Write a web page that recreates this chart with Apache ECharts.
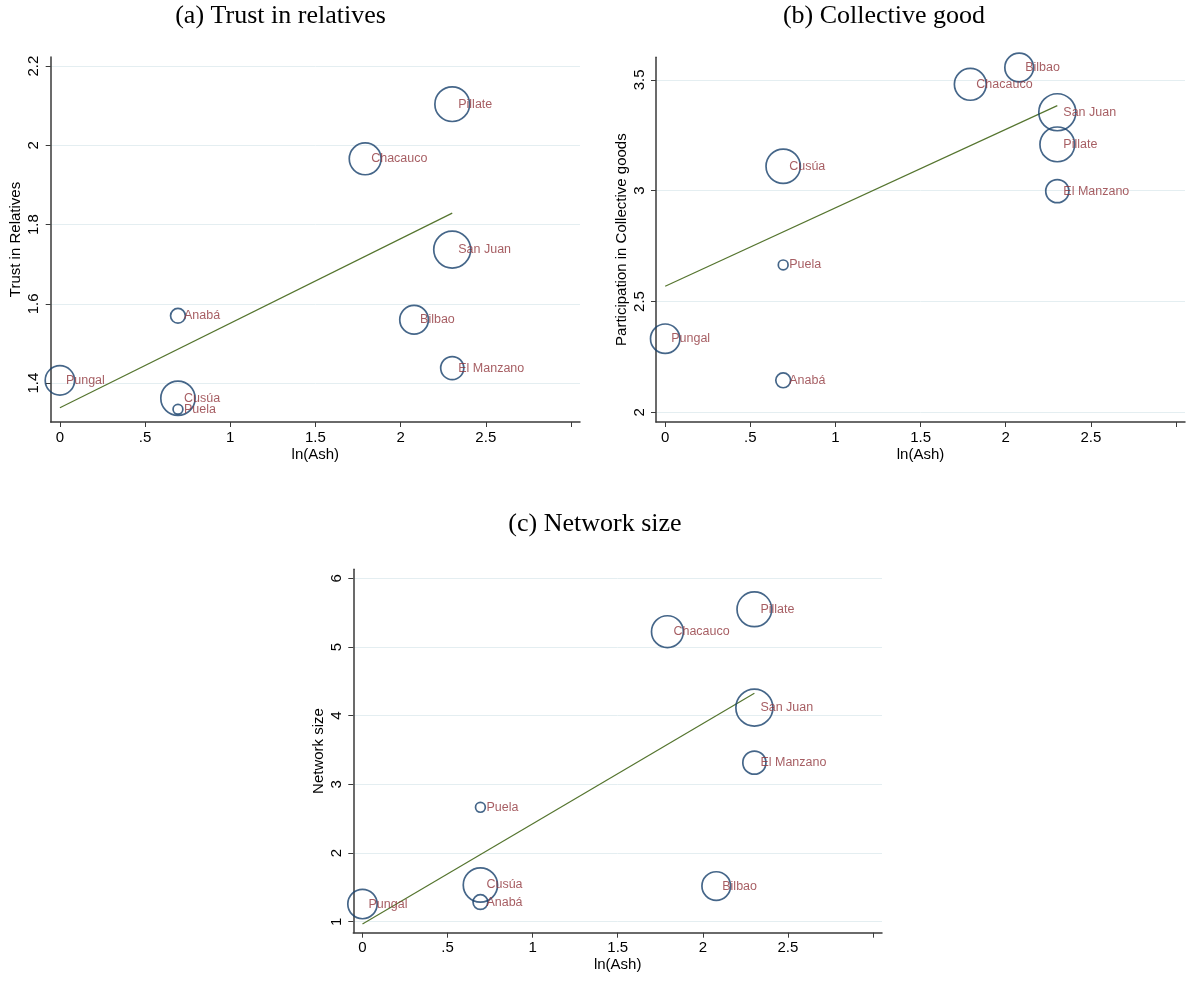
<!DOCTYPE html>
<html>
<head>
<meta charset="utf-8">
<script src="https://cdn.jsdelivr.net/npm/echarts@6/dist/echarts.min.js"></script>
<style>
html,body{margin:0;padding:0;background:#fff;}
#chart{width:1192px;height:981px;}
</style>
</head>
<body>
<div id="chart"></div>
<script>
// ---- data ----
const villages = ['Pungal', 'Anabá', 'Cusúa', 'Puela', 'Chacauco', 'Bilbao', 'Pillate', 'San Juan', 'El Manzano'];
const lnAsh = [0, 0.693, 0.693, 0.693, 1.792, 2.079, 2.303, 2.303, 2.303];
const bubbleWeight = [63, 16, 86, 7, 74, 60, 88, 100, 39];
const trustRelatives = [1.407, 1.570, 1.362, 1.334, 1.966, 1.560, 2.104, 1.737, 1.438];
const collectiveGoods = [2.332, 2.144, 3.110, 2.665, 3.480, 3.556, 3.209, 3.354, 2.998];
const networkSize = [1.257, 1.286, 1.534, 2.665, 5.223, 1.519, 5.549, 4.117, 3.316];
const fitX = [0, 2.303];
const fitTrust = [1.338, 1.829];
const fitCollective = [2.569, 3.384];
const fitNetwork = [0.966, 4.325];
const xTicks = [0, 0.5, 1, 1.5, 2, 2.5, 3];
const xTickLabels = [0, 0.5, 1, 1.5, 2, 2.5];
const yTicksTrust = [1.4, 1.6, 1.8, 2, 2.2];
const yTicksCollective = [2, 2.5, 3, 3.5];
const yTicksNetwork = [1, 2, 3, 4, 5, 6];
const panelTitles = ['(a) Trust in relatives', '(b) Collective good', '(c) Network size'];
const yNames = ['Trust in Relatives', 'Participation in Collective goods', 'Network size'];
const xName = 'ln(Ash)';

// ---- layout / style ----
const SANS = "'Liberation Sans', Arial, Helvetica, sans-serif";
const SERIF = "'Liberation Serif', 'Times New Roman', serif";
const NAVY = '#17406b', MAROON = '#90353b', GREEN = '#55752f', GRIDC = '#e4eef1', AXC = '#3a3a3a';
const X_MIN = -0.054, X_MAX = 3.053;
const maxW = Math.max(...bubbleWeight);
const MAX_D = 37;

const panels = [
  {grid: {left: 50.7, top: 57, width: 529.3, height: 365}, yMin: 1.302, yMax: 2.223, yTicks: yTicksTrust, y: trustRelatives, fit: fitTrust},
  {grid: {left: 656, top: 57.3, width: 529, height: 364.7}, yMin: 1.956, yMax: 3.602, yTicks: yTicksCollective, y: collectiveGoods, fit: fitCollective},
  {grid: {left: 353.3, top: 569.3, width: 528.7, height: 363.4}, yMin: 0.84, yMax: 6.131, yTicks: yTicksNetwork, y: networkSize, fit: fitNetwork}
];

function fmt(v) {
  let s = String(Math.round(v * 1000) / 1000);
  if (s.indexOf('0.') === 0) s = s.slice(1);
  return s;
}

const grid = [], xAxis = [], yAxis = [], series = [];
panels.forEach((p, i) => {
  grid.push(Object.assign({containLabel: false}, p.grid));
  xAxis.push({
    type: 'value', gridIndex: i, min: X_MIN, max: X_MAX,
    name: xName, nameLocation: 'middle', nameGap: 25,
    nameTextStyle: {fontFamily: SANS, fontSize: 15, color: '#000'},
    axisLine: {show: true, onZero: false, lineStyle: {color: AXC, width: 1.5}},
    axisTick: {show: true, length: 5, customValues: xTicks, lineStyle: {color: AXC, width: 1}},
    axisLabel: {customValues: xTickLabels, formatter: fmt, fontFamily: SANS, fontSize: 15, color: '#000', margin: 8},
    splitLine: {show: false}
  });
  yAxis.push({
    type: 'value', gridIndex: i, min: p.yMin, max: p.yMax,
    name: yNames[i], nameLocation: 'middle', nameGap: 27,
    nameTextStyle: {fontFamily: SANS, fontSize: 15, color: '#000'},
    axisLine: {show: true, onZero: false, lineStyle: {color: AXC, width: 1.5}},
    axisTick: {show: true, length: 5, customValues: p.yTicks, lineStyle: {color: AXC, width: 1}},
    axisLabel: {customValues: p.yTicks, formatter: fmt, rotate: 90, fontFamily: SANS, fontSize: 15, color: '#000', margin: 9},
    splitLine: {show: true, lineStyle: {color: GRIDC, width: 1}}
  });
  series.push({
    type: 'line', xAxisIndex: i, yAxisIndex: i, silent: true, z: 1,
    showSymbol: false, symbol: 'none',
    data: [[fitX[0], p.fit[0]], [fitX[1], p.fit[1]]],
    lineStyle: {color: GREEN, width: 1.2}
  });
  series.push({
    type: 'scatter', xAxisIndex: i, yAxisIndex: i, z: 2,
    data: villages.map((n, k) => ({name: n, value: [lnAsh[k], p.y[k]]})),
    symbol: 'circle',
    symbolSize: (val, params) => MAX_D * Math.sqrt(bubbleWeight[params.dataIndex] / maxW),
    itemStyle: {color: 'rgba(0,0,0,0)', borderColor: NAVY, borderWidth: 1.7},
    label: {show: true, position: 'inside', align: 'left', verticalAlign: 'middle', offset: [6, 0],
            formatter: '{b}', fontFamily: SANS, fontSize: 12.5, color: MAROON},
    emphasis: {disabled: true}
  });
});

const TFONT = '26px ' + SERIF;
const graphic = [
  {type: 'text', style: {x: 280.5, y: 16, text: panelTitles[0], textAlign: 'center', textVerticalAlign: 'middle', font: TFONT, fill: '#000'}},
  {type: 'text', style: {x: 884, y: 16, text: panelTitles[1], textAlign: 'center', textVerticalAlign: 'middle', font: TFONT, fill: '#000'}},
  {type: 'text', style: {x: 595, y: 524, text: panelTitles[2], textAlign: 'center', textVerticalAlign: 'middle', font: TFONT, fill: '#000'}}
];

const chart = echarts.init(document.getElementById('chart'), null, {renderer: 'canvas'});
chart.setOption({
  backgroundColor: '#fff',
  animation: false,
  grid, xAxis, yAxis, series, graphic
});
</script>
</body>
</html>
